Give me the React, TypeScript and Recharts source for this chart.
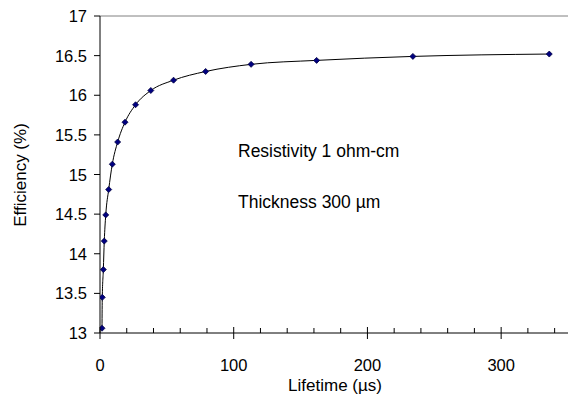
import { LineChart, Line, XAxis, YAxis, ReferenceLine } from "recharts";

const lifetime = [1.5, 1.7, 2.5, 3.2, 4.3, 6.5, 9.2, 13.2, 18.7, 26.6, 38, 55, 79, 113, 162, 234, 336];
const efficiency = [13.06, 13.45, 13.8, 14.16, 14.49, 14.81, 15.13, 15.41, 15.66, 15.88, 16.06, 16.19, 16.3, 16.39, 16.44, 16.49, 16.52];
const xTicks = [0, 20, 40, 60, 80, 100, 120, 140, 160, 180, 200, 220, 240, 260, 280, 300, 320, 340];
const yTicks = [13, 13.5, 14, 14.5, 15, 15.5, 16, 16.5, 17];

const data = lifetime.map((t, i) => ({ t, eff: efficiency[i] }));

const font = "'Liberation Sans', Arial, sans-serif";

const XTick = ({ x, y, payload }: any) => {
  const v = payload.value;
  const major = v % 100 === 0;
  return (
    <g>
      {major ? (
        <line x1={x} x2={x} y1={y - 6} y2={y + 6} stroke="#000" />
      ) : (
        <line x1={x} x2={x} y1={y - 5} y2={y} stroke="#000" />
      )}
      {major && (
        <text x={x} y={y + 38} textAnchor="middle" fontSize={16.5} fontFamily={font} fill="#000">
          {v}
        </text>
      )}
    </g>
  );
};

const YTick = ({ x, y, payload }: any) => (
  <g>
    <line x1={x - 6} x2={x} y1={y} y2={y} stroke="#000" />
    <text x={x - 13} y={y + 6} textAnchor="end" fontSize={16.5} fontFamily={font} fill="#000">
      {payload.value}
    </text>
  </g>
);

const Diamond = ({ cx, cy }: any) => (
  <path
    d={`M${cx},${cy - 3} L${cx + 3},${cy} L${cx},${cy + 3} L${cx - 3},${cy} Z`}
    fill="#000080"
    stroke="#000040"
    strokeWidth={0.8}
  />
);

export default function App() {
  return (
    <div style={{ position: "absolute", left: 0, top: 0, background: "#fff" }}>
      <LineChart width={568} height={403} data={data} margin={{ top: 16, right: 0, bottom: 0, left: 0 }}>
        <XAxis
          dataKey="t"
          type="number"
          domain={[0, 350]}
          ticks={xTicks}
          interval={0}
          tickSize={0}
          tickMargin={0}
          tickLine={false}
          tick={<XTick />}
          stroke="#000"
          height={70}
          allowDataOverflow
        />
        <YAxis
          type="number"
          domain={[13, 17]}
          ticks={yTicks}
          interval={0}
          tickSize={0}
          tickMargin={0}
          tickLine={false}
          tick={<YTick />}
          stroke="#000"
          width={100}
        />
        <ReferenceLine y={17} stroke="#808080" />
        <Line
          dataKey="eff"
          type="monotone"
          stroke="#000"
          strokeWidth={1}
          dot={<Diamond />}
          isAnimationActive={false}
        />
        <text x={238} y={157} fontSize={17.5} fontFamily={font} fill="#000">
          Resistivity 1 ohm-cm
        </text>
        <text x={238} y={208} fontSize={17.5} fontFamily={font} fill="#000">
          Thickness 300 µm
        </text>
        <text x={335} y={391} textAnchor="middle" fontSize={17} fontFamily={font} fill="#000">
          Lifetime (µs)
        </text>
        <text
          x={26}
          y={175}
          textAnchor="middle"
          fontSize={17}
          fontFamily={font}
          fill="#000"
          transform="rotate(-90 26 175)"
        >
          Efficiency (%)
        </text>
      </LineChart>
    </div>
  );
}
